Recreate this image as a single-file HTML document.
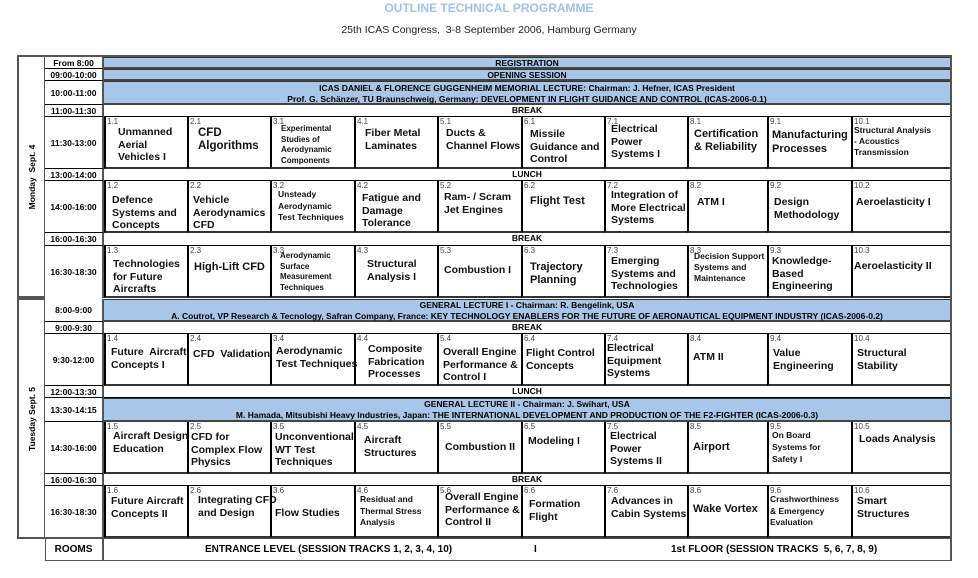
<!DOCTYPE html>
<html><head><meta charset="utf-8"><style>
body{margin:0;width:978px;height:578px;background:#fff;font-family:"Liberation Sans",Arial,sans-serif;position:relative;overflow:hidden}
div{position:absolute;box-sizing:border-box}
.t{left:45px;width:59px;font-weight:bold;font-size:8.5px;text-align:center;border-bottom:1px solid #000;border-right:2px solid #555;display:flex;align-items:center;justify-content:center}
.f{left:104px;width:846px;font-weight:bold;font-size:8.5px;text-align:center;border-bottom:1px solid #000;line-height:11px}
.b{background:#a8c6e8;border-top:1px solid #333;border-bottom:2px solid #444}
.s{border-left:2.5px solid #000;border-bottom:2px solid #333;font-weight:bold;font-size:10.5px;line-height:12.5px;color:#111}
.s i{position:absolute;left:1px;top:0;font-style:normal;font-weight:normal;font-size:8px;line-height:9px;color:#444}
.s b{position:absolute;left:9px;top:9px;white-space:nowrap}
.sm b{font-size:8px;line-height:10.5px}
.day{left:17px;width:28px;border:2px solid #555;border-right:1px solid #555}
.day span{position:absolute;left:50%;top:50%;transform:translate(-50%,-50%) rotate(-90deg);font-weight:bold;font-size:8.5px;white-space:nowrap}
</style></head><body>
<div style="left:0;width:978px;top:1px;text-align:center;color:#9dc3ef;font-weight:bold;font-size:12px">OUTLINE TECHNICAL PROGRAMME</div>
<div style="left:0;width:978px;top:24px;text-align:center;font-size:10.5px;color:#222">25th ICAS Congress,&nbsp; 3-8 September 2006, Hamburg Germany</div>

<div style="left:17px;top:55px;width:935px;height:484px;border:2px solid #555"></div>
<div class="day" style="top:55px;height:243px"><span>Monday&nbsp; Sept. 4</span></div>
<div class="day" style="top:298px;height:241px"><span>Tuesday Sept. 5</span></div>

<!-- Monday -->
<div class="t" style="top:57px;height:12px">From 8:00</div>
<div class="f b" style="top:57px;height:12px">REGISTRATION</div>
<div class="t" style="top:69px;height:12px">09:00-10:00</div>
<div class="f b" style="top:69px;height:12px">OPENING SESSION</div>
<div class="t" style="top:81px;height:24px">10:00-11:00</div>
<div class="f b" style="top:81px;height:24px;padding-top:1px">ICAS DANIEL &amp; FLORENCE GUGGENHEIM MEMORIAL LECTURE: Chairman: J. Hefner, ICAS President<br>Prof. G. Schänzer, TU Braunschweig, Germany: DEVELOPMENT IN FLIGHT GUIDANCE AND CONTROL (ICAS-2006-0.1)</div>
<div class="t" style="top:105px;height:12px">11:00-11:30</div>
<div class="f" style="top:105px;height:12px">BREAK</div>
<div class="t" style="top:117px;height:52px">11:30-13:00</div>
<div class="t" style="top:169px;height:12px">13:00-14:00</div>
<div class="f" style="top:169px;height:12px">LUNCH</div>
<div class="t" style="top:181px;height:52px">14:00-16:00</div>
<div class="t" style="top:233px;height:13px">16:00-16:30</div>
<div class="f" style="top:233px;height:13px">BREAK</div>
<div class="t" style="top:246px;height:52px;border-bottom:none">16:30-18:30</div>

<!-- Tuesday -->
<div class="t" style="top:299px;height:23px">8:00-9:00</div>
<div class="f b" style="top:299px;height:23px">GENERAL LECTURE I - Chairman: R. Bengelink, USA<br>A. Coutrot, VP Research &amp; Tecnology, Safran Company, France: KEY TECHNOLOGY ENABLERS FOR THE FUTURE OF AERONAUTICAL EQUIPMENT INDUSTRY (ICAS-2006-0.2)</div>
<div class="t" style="top:322px;height:12px">9:00-9:30</div>
<div class="f" style="top:322px;height:12px">BREAK</div>
<div class="t" style="top:334px;height:52px">9:30-12:00</div>
<div class="t" style="top:386px;height:12px">12:00-13:30</div>
<div class="f" style="top:386px;height:12px">LUNCH</div>
<div class="t" style="top:398px;height:24px">13:30-14:15</div>
<div class="f b" style="top:398px;height:24px">GENERAL LECTURE II - Chairman: J. Swihart, USA<br>M. Hamada, Mitsubishi Heavy Industries, Japan: THE INTERNATIONAL DEVELOPMENT AND PRODUCTION OF THE F2-FIGHTER (ICAS-2006-0.3)</div>
<div class="t" style="top:422px;height:52px">14:30-16:00</div>
<div class="t" style="top:474px;height:12px">16:00-16:30</div>
<div class="f" style="top:474px;height:12px">BREAK</div>
<div class="t" style="top:486px;height:52px;border-bottom:none">16:30-18:30</div>

<!-- Row 1 -->
<div class="s" style="left:104px;top:117px;width:83px;height:52px"><i>1.1</i><b style="left:12px;top:9px">Unmanned<br>Aerial<br>Vehicles I</b></div>
<div class="s" style="left:187px;top:117px;width:83px;height:52px"><i>2.1</i><b style="top:10px;font-size:11.5px;line-height:13px">CFD<br>Algorithms</b></div>
<div class="s sm" style="left:270px;top:117px;width:84px;height:52px"><i>3.1</i><b style="top:7px">Experimental<br>Studies of<br>Aerodynamic<br>Components</b></div>
<div class="s" style="left:354px;top:117px;width:83px;height:52px"><i>4.1</i><b style="top:10px">Fiber Metal<br>Laminates</b></div>
<div class="s" style="left:437px;top:117px;width:84px;height:52px"><i>5.1</i><b style="left:7px;top:10px">Ducts &amp;<br>Channel Flows</b></div>
<div class="s" style="left:521px;top:117px;width:83px;height:52px"><i>6.1</i><b style="left:7px;top:11px">Missile<br>Guidance and<br>Control</b></div>
<div class="s" style="left:604px;top:117px;width:83px;height:52px"><i>7.1</i><b style="left:5px;top:6px">Electrical<br>Power<br>Systems I</b></div>
<div class="s" style="left:687px;top:117px;width:80px;height:52px"><i>8.1</i><b style="left:5px;top:11px;font-size:11px;line-height:13px">Certification<br>&amp; Reliability</b></div>
<div class="s" style="left:767px;top:117px;width:84px;height:52px"><i>9.1</i><b style="left:3px;top:11px;font-size:11px;line-height:14px">Manufacturing<br>Processes</b></div>
<div class="s sm" style="left:851px;top:117px;width:99px;height:52px"><i>10.1</i><b style="left:1px;top:8px;font-size:8.5px;line-height:11px">Structural Analysis<br>- Acoustics<br>Transmission</b></div>

<!-- Row 2 -->
<div class="s" style="left:104px;top:181px;width:83px;height:52px"><i>1.2</i><b style="left:6px;top:13px">Defence<br>Systems and<br>Concepts</b></div>
<div class="s" style="left:187px;top:181px;width:83px;height:52px"><i>2.2</i><b style="left:4px;top:13px">Vehicle<br>Aerodynamics<br>CFD</b></div>
<div class="s sm" style="left:270px;top:181px;width:84px;height:52px"><i>3.2</i><b style="left:6px;top:8px;font-size:8.5px;line-height:11.5px">Unsteady<br>Aerodynamic<br>Test Techniques</b></div>
<div class="s" style="left:354px;top:181px;width:83px;height:52px"><i>4.2</i><b style="left:6px;top:11px">Fatigue and<br>Damage<br>Tolerance</b></div>
<div class="s" style="left:437px;top:181px;width:84px;height:52px"><i>5.2</i><b style="left:5px;top:10px">Ram- / Scram<br>Jet Engines</b></div>
<div class="s" style="left:521px;top:181px;width:83px;height:52px"><i>6.2</i><b style="left:7px;top:14px;font-size:11px">Flight Test</b></div>
<div class="s" style="left:604px;top:181px;width:83px;height:52px"><i>7.2</i><b style="left:5px;top:8px">Integration of<br>More Electrical<br>Systems</b></div>
<div class="s" style="left:687px;top:181px;width:80px;height:52px"><i>8.2</i><b style="left:8px;top:15px">ATM I</b></div>
<div class="s" style="left:767px;top:181px;width:84px;height:52px"><i>9.2</i><b style="left:5px;top:15px">Design<br>Methodology</b></div>
<div class="s" style="left:851px;top:181px;width:99px;height:52px"><i>10.2</i><b style="left:3px;top:15px">Aeroelasticity I</b></div>

<!-- Row 3 -->
<div class="s" style="left:104px;top:246px;width:83px;height:52px"><i>1.3</i><b style="left:7px;top:12px">Technologies<br>for Future<br>Aircrafts</b></div>
<div class="s" style="left:187px;top:246px;width:83px;height:52px"><i>2.3</i><b style="left:5px;top:15px;font-size:11px">High-Lift CFD</b></div>
<div class="s sm" style="left:270px;top:246px;width:84px;height:52px"><i>3.3</i><b style="left:8px;top:5px">Aerodynamic<br>Surface<br>Measurement<br>Techniques</b></div>
<div class="s" style="left:354px;top:246px;width:83px;height:52px"><i>4.3</i><b style="left:11px;top:12px">Structural<br>Analysis I</b></div>
<div class="s" style="left:437px;top:246px;width:84px;height:52px"><i>5.3</i><b style="left:5px;top:18px">Combustion I</b></div>
<div class="s" style="left:521px;top:246px;width:83px;height:52px"><i>6.3</i><b style="left:7px;top:15px;font-size:11px;line-height:13px">Trajectory<br>Planning</b></div>
<div class="s" style="left:604px;top:246px;width:83px;height:52px"><i>7.3</i><b style="left:5px;top:9px">Emerging<br>Systems and<br>Technologies</b></div>
<div class="s sm" style="left:687px;top:246px;width:80px;height:52px"><i>8.3</i><b style="left:5px;top:5px;font-size:8.5px;line-height:11px">Decision Support<br>Systems and<br>Maintenance</b></div>
<div class="s" style="left:767px;top:246px;width:84px;height:52px"><i>9.3</i><b style="left:3px;top:9px">Knowledge-<br>Based<br>Engineering</b></div>
<div class="s" style="left:851px;top:246px;width:99px;height:52px"><i>10.3</i><b style="left:1px;top:14px">Aeroelasticity II</b></div>

<!-- Row 4 -->
<div class="s" style="left:104px;top:334px;width:83px;height:52px"><i>1.4</i><b style="left:5px;top:12px">Future&nbsp; Aircraft<br>Concepts I</b></div>
<div class="s" style="left:187px;top:334px;width:83px;height:52px"><i>2.4</i><b style="left:4px;top:14px">CFD&nbsp; Validation</b></div>
<div class="s" style="left:270px;top:334px;width:84px;height:52px"><i>3.4</i><b style="left:4px;top:11px">Aerodynamic<br>Test Techniques</b></div>
<div class="s" style="left:354px;top:334px;width:83px;height:52px"><i>4.4</i><b style="left:12px;top:9px">Composite<br>Fabrication<br>Processes</b></div>
<div class="s" style="left:437px;top:334px;width:84px;height:52px"><i>5.4</i><b style="left:4px;top:12px">Overall Engine<br>Performance &amp;<br>Control I</b></div>
<div class="s" style="left:521px;top:334px;width:83px;height:52px"><i>6.4</i><b style="left:3px;top:13px">Flight Control<br>Concepts</b></div>
<div class="s" style="left:604px;top:334px;width:83px;height:52px"><i>7.4</i><b style="left:1px;top:8px">Electrical<br>Equipment<br>Systems</b></div>
<div class="s" style="left:687px;top:334px;width:80px;height:52px"><i>8.4</i><b style="left:4px;top:17px">ATM II</b></div>
<div class="s" style="left:767px;top:334px;width:84px;height:52px"><i>9.4</i><b style="left:4px;top:13px">Value<br>Engineering</b></div>
<div class="s" style="left:851px;top:334px;width:99px;height:52px"><i>10.4</i><b style="left:4px;top:13px">Structural<br>Stability</b></div>

<!-- Row 5 -->
<div class="s" style="left:104px;top:422px;width:83px;height:52px"><i>1.5</i><b style="left:7px;top:8px">Aircraft Design<br>Education</b></div>
<div class="s" style="left:187px;top:422px;width:83px;height:52px"><i>2.5</i><b style="left:2px;top:9px">CFD for<br>Complex Flow<br>Physics</b></div>
<div class="s" style="left:270px;top:422px;width:84px;height:52px"><i>3.5</i><b style="left:3px;top:9px">Unconventional<br>WT Test<br>Techniques</b></div>
<div class="s" style="left:354px;top:422px;width:83px;height:52px"><i>4.5</i><b style="left:8px;top:12px">Aircraft<br>Structures</b></div>
<div class="s" style="left:437px;top:422px;width:84px;height:52px"><i>5.5</i><b style="left:6px;top:19px">Combustion II</b></div>
<div class="s" style="left:521px;top:422px;width:83px;height:52px"><i>6.5</i><b style="left:5px;top:13px">Modeling I</b></div>
<div class="s" style="left:604px;top:422px;width:83px;height:52px"><i>7.5</i><b style="left:4px;top:8px">Electrical<br>Power<br>Systems II</b></div>
<div class="s" style="left:687px;top:422px;width:80px;height:52px"><i>8.5</i><b style="left:4px;top:19px;font-size:11px">Airport</b></div>
<div class="s sm" style="left:767px;top:422px;width:84px;height:52px"><i>9.5</i><b style="left:3px;top:7px;font-size:8.5px;line-height:12px">On Board<br>Systems for<br>Safety I</b></div>
<div class="s" style="left:851px;top:422px;width:99px;height:52px"><i>10.5</i><b style="left:6px;top:11px">Loads Analysis</b></div>

<!-- Row 6 -->
<div class="s" style="left:104px;top:486px;width:83px;height:52px"><i>1.6</i><b style="left:5px;top:9px">Future Aircraft<br>Concepts II</b></div>
<div class="s" style="left:187px;top:486px;width:83px;height:52px"><i>2.6</i><b style="left:9px;top:8px">Integrating CFD<br>and Design</b></div>
<div class="s" style="left:270px;top:486px;width:84px;height:52px"><i>3.6</i><b style="left:3px;top:21px">Flow Studies</b></div>
<div class="s sm" style="left:354px;top:486px;width:83px;height:52px"><i>4.6</i><b style="left:4px;top:8px;font-size:8.5px;line-height:11.5px">Residual and<br>Thermal Stress<br>Analysis</b></div>
<div class="s" style="left:437px;top:486px;width:84px;height:52px"><i>5.6</i><b style="left:6px;top:5px">Overall Engine<br>Performance &amp;<br>Control II</b></div>
<div class="s" style="left:521px;top:486px;width:83px;height:52px"><i>6.6</i><b style="left:6px;top:12px">Formation<br>Flight</b></div>
<div class="s" style="left:604px;top:486px;width:83px;height:52px"><i>7.6</i><b style="left:5px;top:9px">Advances in<br>Cabin Systems</b></div>
<div class="s" style="left:687px;top:486px;width:80px;height:52px"><i>8.6</i><b style="left:4px;top:17px;font-size:11px">Wake Vortex</b></div>
<div class="s sm" style="left:767px;top:486px;width:84px;height:52px"><i>9.6</i><b style="left:1px;top:8px;font-size:8.5px;line-height:11.5px">Crashworthiness<br>&amp; Emergency<br>Evaluation</b></div>
<div class="s" style="left:851px;top:486px;width:99px;height:52px"><i>10.6</i><b style="left:4px;top:9px">Smart<br>Structures</b></div>

<!-- Rooms -->
<div style="left:45px;top:539px;width:907px;height:22px;border:1px solid #555;border-top:none;border-right:2px solid #555"></div>
<div style="left:45px;top:539px;width:59px;height:22px;border-right:2px solid #555;font-weight:bold;font-size:10px;text-align:center;line-height:22px">ROOMS</div>
<div style="left:205px;top:539px;height:22px;line-height:22px;font-weight:bold;font-size:10px;white-space:nowrap">ENTRANCE LEVEL (SESSION TRACKS 1, 2, 3, 4, 10)</div>
<div style="left:534px;top:539px;height:22px;line-height:22px;font-weight:bold;font-size:10px">I</div>
<div style="left:671px;top:539px;height:22px;line-height:22px;font-weight:bold;font-size:10px;white-space:nowrap">1st FLOOR (SESSION TRACKS&nbsp; 5, 6, 7, 8, 9)</div>
</body></html>
